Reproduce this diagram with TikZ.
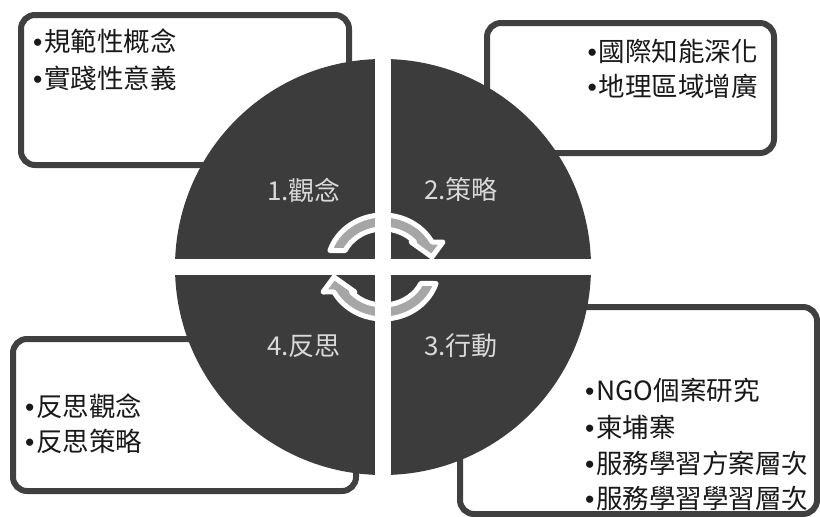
\documentclass[tikz,border=0pt]{standalone}
\usepackage{fontspec}
\setmainfont{Noto Sans CJK TC}
\newfontfamily\bulf{Liberation Sans}
\definecolor{boxgray}{HTML}{404040}
\definecolor{circgray}{HTML}{3C3C3C}
\definecolor{labgray}{HTML}{D9D9D9}
\definecolor{arrgray}{HTML}{A6A6A6}
\newcommand\bul{{\bulf •}\hspace{2pt}}
\begin{document}
\begin{tikzpicture}[x=1pt,y=-1pt,
  box/.style={draw=boxgray, line width=6pt, rounded corners=14pt, fill=white, inner sep=0pt},
  item/.style={font=\fontsize{26.5}{30}\selectfont, inner sep=0pt, text=black!90},
  lab/.style={font=\fontsize{26}{30}\selectfont, text=labgray, inner sep=0pt},
  arr/.style={fill=arrgray, draw=white, line width=5pt, line join=round}]
\useasboundingbox (0,0) rectangle (820,517);
% boxes
\node[box, minimum width=328pt, minimum height=150pt] (btl) at (185,90) {};
\node[box, minimum width=287pt, minimum height=130pt] (btr) at (630.5,88) {};
\node[box, minimum width=343pt, minimum height=152pt] (bbl) at (184.5,415) {};
\node[box, minimum width=357pt, minimum height=207pt] (bbr) at (638.5,410.5) {};
% circle
\node[circle, fill=circgray, minimum size=416pt, inner sep=0pt] (c) at (383,267) {};
% cycle arrows
\begin{scope}[shift={(383,267)}, x=1pt, y=1pt]
  \path[arr] (161.5:56 and 52) arc[start angle=161.5, end angle=28.7, x radius=56, y radius=52] -- (60,25) -- (49,10) -- (28,25) -- (41.1:42 and 38) arc[start angle=41.1, end angle=154.3, x radius=42, y radius=38] -- cycle;
  \path[arr, rotate=180] (161.5:56 and 52) arc[start angle=161.5, end angle=28.7, x radius=56, y radius=52] -- (60,25) -- (49,10) -- (28,25) -- (41.1:42 and 38) arc[start angle=41.1, end angle=154.3, x radius=42, y radius=38] -- cycle;
\end{scope}
% white gaps between the quadrants
\begin{scope}
  \clip (c.center) circle[radius=210pt];
  \fill[white] (375,50) rectangle (391,485);
  \fill[white] (165,259) rectangle (600,275);
\end{scope}
% quadrant labels
\node[lab] (l1) at (304,190) {1.觀念};
\node[lab] (l2) at (461,190) {2.策略};
\node[lab] (l3) at (461,346) {3.行動};
\node[lab] (l4) at (304,346) {4.反思};
% box texts
\node[item, anchor=west] (a1) at (33,41) {\bul 規範性概念};
\node[item, anchor=west] (a2) at (33,78) {\bul 實踐性意義};
\node[item, anchor=east] (b1) at (758,51) {\bul 國際知能深化};
\node[item, anchor=east] (b2) at (758,86) {\bul 地理區域增廣};
\node[item, anchor=west] (d1) at (25,406) {\bul 反思觀念};
\node[item, anchor=west] (d2) at (25,441) {\bul 反思策略};
\node[item, anchor=west] (c1) at (585,390) {\bul NGO個案研究};
\node[item, anchor=west] (c2) at (585,427) {\bul 柬埔寨};
\node[item, anchor=west] (c3) at (585,463) {\bul 服務學習方案層次};
\node[item, anchor=west] (c4) at (585,498) {\bul 服務學習學習層次};
\end{tikzpicture}
\end{document}
